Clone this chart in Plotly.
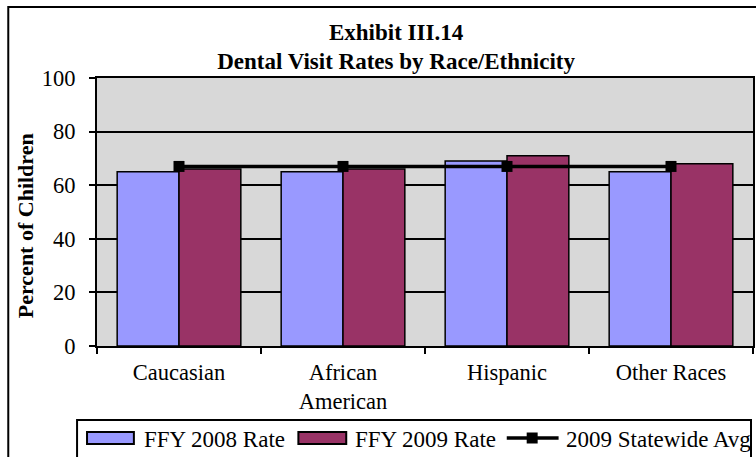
import plotly.graph_objects as go

# Chart data
categories = ["Caucasian", "African American", "Hispanic", "Other Races"]
tick_labels = ["Caucasian", "African<br>American", "Hispanic", "Other Races"]
rate_2008 = [65, 65, 69, 65]
rate_2009 = [66, 66, 71, 68]
statewide_avg_2009 = [67, 67, 67, 67]
series_names = ["FFY 2008 Rate", "FFY 2009 Rate", "2009 Statewide Avg"]
y_ticks = [0, 20, 40, 60, 80, 100]

COLOR_2008 = "#9999FF"
COLOR_2009 = "#993366"
FONT = "Liberation Serif, Times New Roman, serif"
FS = 22.5

W, H = 756, 457
PL, PR, PT, PB = 97, 1, 78, 111
PW, PH = W - PL - PR, H - PT - PB


def px_x(px):
    return (px - PL) / PW


def px_y(py):
    return (H - PB - py) / PH


fig = go.Figure()
fig.add_trace(go.Bar(
    x=categories, y=rate_2008, name=series_names[0],
    marker=dict(color=COLOR_2008, line=dict(color="black", width=1.5)),
    showlegend=False,
))
fig.add_trace(go.Bar(
    x=categories, y=rate_2009, name=series_names[1],
    marker=dict(color=COLOR_2009, line=dict(color="black", width=1.5)),
    showlegend=False,
))
fig.add_trace(go.Scatter(
    x=categories, y=statewide_avg_2009, name=series_names[2],
    mode="lines+markers",
    line=dict(color="black", width=3.5),
    marker=dict(symbol="square", size=11, color="black"),
    showlegend=False,
))

shapes = []
annotations = []

# outer chart frame
shapes.append(dict(type="rect", xref="paper", yref="paper",
                   x0=px_x(8), x1=px_x(800), y0=px_y(520), y1=px_y(7),
                   line=dict(color="black", width=2), fillcolor="rgba(0,0,0,0)"))

# legend frame
shapes.append(dict(type="rect", xref="paper", yref="paper",
                   x0=px_x(77), x1=px_x(753), y0=px_y(470), y1=px_y(420),
                   line=dict(color="black", width=2), fillcolor="rgba(0,0,0,0)"))

leg_cy = 438
# bar swatches
for (x0, x1), col in [((87, 134), COLOR_2008), ((299, 347), COLOR_2009)]:
    shapes.append(dict(type="rect", xref="paper", yref="paper",
                       x0=px_x(x0), x1=px_x(x1), y0=px_y(leg_cy + 6), y1=px_y(leg_cy - 6),
                       line=dict(color="black", width=2), fillcolor=col))
# line swatch
shapes.append(dict(type="line", xref="paper", yref="paper",
                   x0=px_x(508), x1=px_x(560), y0=px_y(leg_cy), y1=px_y(leg_cy),
                   line=dict(color="black", width=3.5)))
shapes.append(dict(type="rect", xref="paper", yref="paper",
                   x0=px_x(528), x1=px_x(539), y0=px_y(leg_cy + 5.5), y1=px_y(leg_cy - 5.5),
                   line=dict(color="black", width=0), fillcolor="black"))

for name, tx in zip(series_names, [142, 354, 565]):
    annotations.append(dict(xref="paper", yref="paper", x=px_x(tx), y=px_y(leg_cy + 1),
                            text=name, showarrow=False, xanchor="left", yanchor="middle",
                            font=dict(family=FONT, size=23, color="black")))

# y-axis title
annotations.append(dict(xref="paper", yref="paper", x=px_x(25), y=px_y(226),
                        text="<b>Percent of Children</b>", showarrow=False, textangle=-90,
                        xanchor="center", yanchor="middle",
                        font=dict(family=FONT, size=22, color="black")))

fig.update_layout(
    width=W, height=H,
    margin=dict(l=PL, r=PR, t=PT, b=PB),
    paper_bgcolor="white",
    plot_bgcolor="#D8D8D8",
    barmode="group",
    bargap=0.246,
    bargroupgap=0,
    font=dict(family=FONT, size=FS, color="black"),
    title=dict(text="<b>Exhibit III.14<br>Dental Visit Rates by Race/Ethnicity</b>",
               xref="paper", x=px_x(397), xanchor="center",
               yref="container", y=1 - 39.5 / H, yanchor="middle",
               font=dict(family=FONT, size=23, color="black")),
    xaxis=dict(
        tickmode="array", tickvals=categories, ticktext=tick_labels,
        tickson="boundaries", ticks="outside", ticklen=6, tickwidth=2, tickcolor="black",
        showline=True, linecolor="black", linewidth=2, mirror=True,
        showgrid=False, tickfont=dict(family=FONT, size=FS, color="black"),
        ticklabelstandoff=5,
    ),
    yaxis=dict(
        range=[0, 100], tickvals=y_ticks,
        ticks="outside", ticklen=6, tickwidth=2, tickcolor="black",
        showline=True, linecolor="black", linewidth=2, mirror=True,
        showgrid=True, gridcolor="black", gridwidth=1.5,
        zeroline=False,
        tickfont=dict(family=FONT, size=FS, color="black"),
        ticklabelstandoff=9,
    ),
    shapes=shapes,
    annotations=annotations,
)

fig.write_html("out.html")
